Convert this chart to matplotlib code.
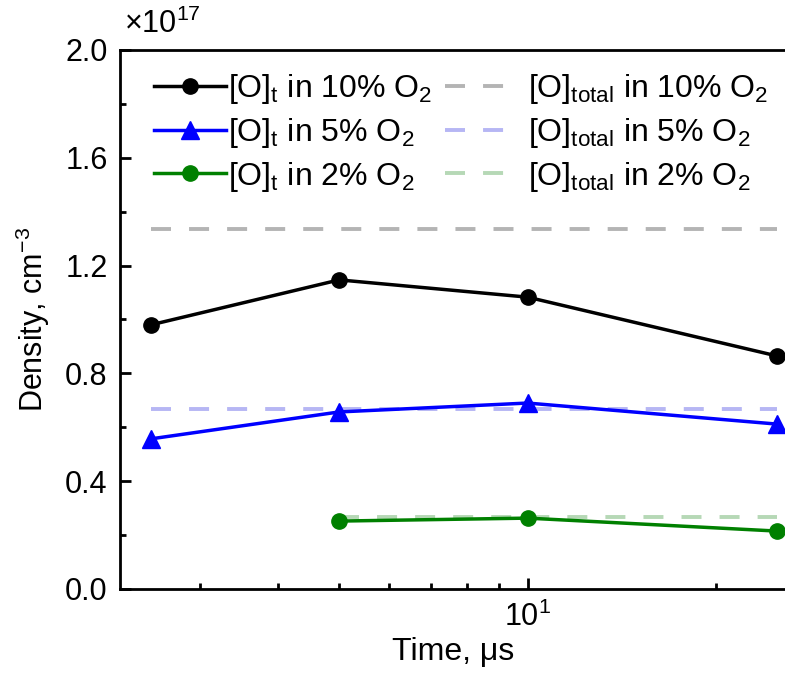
import matplotlib
matplotlib.use("Agg")
import matplotlib.pyplot as plt
from matplotlib.ticker import MultipleLocator, NullFormatter, FixedLocator, FuncFormatter

plt.rcParams['font.family'] = ['Liberation Sans', 'DejaVu Sans']
plt.rcParams['mathtext.fontset'] = 'custom'
plt.rcParams['mathtext.rm'] = 'Liberation Sans'
plt.rcParams['mathtext.it'] = 'Liberation Sans'
plt.rcParams['mathtext.bf'] = 'Liberation Sans:bold'

# Data (density in units of 1e17 cm^-3)
time_us = [2.5, 5, 10, 25]
o_t_10 = [0.98, 1.147, 1.083, 0.865]
o_t_5 = [0.557, 0.657, 0.690, 0.612]
time_2 = [5, 10, 25]
o_t_2 = [0.252, 0.263, 0.215]

total_x_10 = [2.5, 25]
total_10 = [1.336, 1.336]
total_x_5 = [2.5, 25]
total_5 = [0.668, 0.668]
total_x_2 = [5, 25]
total_2 = [0.267, 0.267]

labels_t = ["[O]$_\\mathrm{t}$ in 10% O$_\\mathrm{2}$",
            "[O]$_\\mathrm{t}$ in 5% O$_\\mathrm{2}$",
            "[O]$_\\mathrm{t}$ in 2% O$_\\mathrm{2}$"]
labels_total = ["[O]$_\\mathrm{total}$ in 10% O$_\\mathrm{2}$",
                "[O]$_\\mathrm{total}$ in 5% O$_\\mathrm{2}$",
                "[O]$_\\mathrm{total}$ in 2% O$_\\mathrm{2}$"]

W, H = 785, 673
fig = plt.figure(figsize=(W / 100, H / 100), dpi=100)
ax = fig.add_axes([120 / W, (H - 589) / H, 667 / W, (589 - 50) / H])

lw_d = 2.8
dash = (0, (14.4 / lw_d, 13 / lw_d))
h4, = ax.plot(total_x_10, total_10, color='#b4b4b4', lw=lw_d, ls=dash)
h5, = ax.plot(total_x_5, total_5, color='#b6b6f4', lw=lw_d, ls=dash)
h6, = ax.plot(total_x_2, total_2, color='#b6d8b6', lw=lw_d, ls=dash)

h1, = ax.plot(time_us, o_t_10, color='black', lw=2.5, marker='o', ms=11)
h2, = ax.plot(time_us, o_t_5, color='#0000ff', lw=2.5, marker='^', ms=13)
h3, = ax.plot(time_2, o_t_2, color='#008000', lw=2.5, marker='o', ms=11)

ax.set_xscale('log')
ax.set_xlim(2.233, 25.97)
ax.set_ylim(0, 2.0)

ax.xaxis.set_major_locator(FixedLocator([10]))
ax.xaxis.set_minor_locator(FixedLocator([3, 4, 5, 6, 7, 8, 9, 20]))
ax.xaxis.set_minor_formatter(NullFormatter())
ax.xaxis.set_major_formatter(FuncFormatter(lambda v, p: "10$^\\mathrm{1}$"))
ax.yaxis.set_major_locator(MultipleLocator(0.4))
ax.yaxis.set_minor_locator(MultipleLocator(0.2))
ax.yaxis.set_major_formatter(FuncFormatter(lambda v, p: f"{v:.1f}"))

ax.tick_params(which='both', direction='in', width=2.0, labelsize=22, top=False, right=False)
ax.tick_params(which='major', length=8, pad=9)
ax.tick_params(which='minor', length=4)
for s in ['left', 'bottom', 'top', 'right']:
    ax.spines[s].set_linewidth(2.0)

ax.set_xlabel("Time, μs", fontsize=23, labelpad=3)
ax.set_ylabel("Density, cm$^{-3}$", fontsize=22, labelpad=9)

ax.annotate("×10$^{17}$", xy=(0, 1), xycoords='axes fraction', xytext=(3, 7),
            textcoords='offset points', ha='left', va='bottom', fontsize=22)

leg1 = ax.legend([h1, h2, h3], labels_t, loc='upper left', bbox_to_anchor=(0.0315, 0.982),
                 frameon=False, fontsize=23, handlelength=2.25, handletextpad=0.06,
                 labelspacing=0.3, borderaxespad=0, numpoints=1)
ax.add_artist(leg1)
leg2 = ax.legend([h4, h5, h6], labels_total, loc='upper left', bbox_to_anchor=(0.468, 0.982),
                 frameon=False, fontsize=23, handlelength=1.94, handletextpad=0.65,
                 labelspacing=0.3, borderaxespad=0)

fig.savefig("out.png", dpi=100)
